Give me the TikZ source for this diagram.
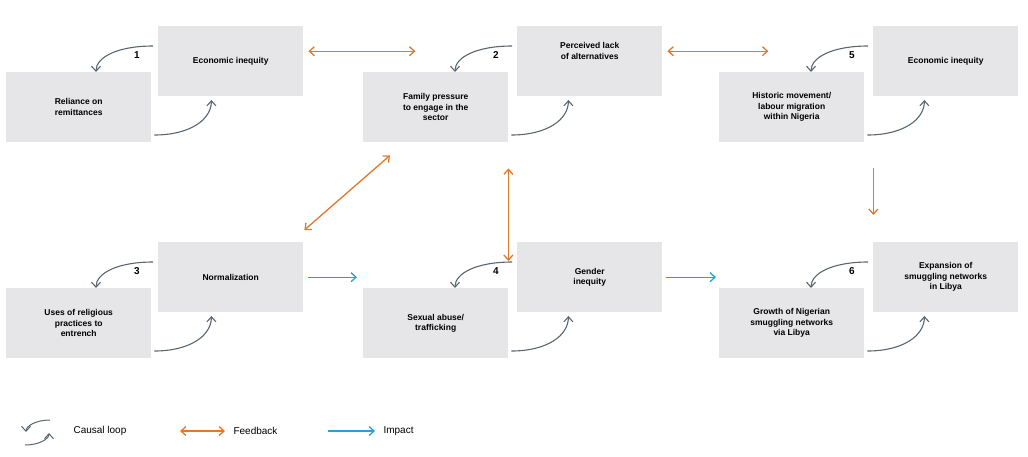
\documentclass[tikz,border=0pt]{standalone}
\usepackage{fontspec}
\setmainfont{Liberation Sans}
\usetikzlibrary{arrows.meta}
\definecolor{boxg}{HTML}{E6E6E8}
\definecolor{loopg}{HTML}{5A6670}
\definecolor{fb}{HTML}{E2782B}
\definecolor{imp}{HTML}{2A9FD8}
\begin{document}
\begin{tikzpicture}[x=1pt,y=-1pt,
 box/.style={fill=boxg,draw=none,minimum width=145pt,minimum height=70pt,align=center,font=\fontsize{8.5}{10.5}\selectfont\bfseries,anchor=north west,inner sep=2pt},
 lp/.style={draw=loopg,line width=1.1pt,-{Straight Barb[length=5pt,width=9pt]}},
 fbk/.style={draw=fb,line width=1.3pt,{Straight Barb[length=5pt,width=9pt]}-{Straight Barb[length=5pt,width=9pt]}},
 fbs/.style={draw=fb,line width=1.3pt,-{Straight Barb[length=5pt,width=9pt]}},
 im/.style={draw=imp,line width=1.3pt,-{Straight Barb[length=5pt,width=9pt]}},
 num/.style={font=\fontsize{10}{12}\selectfont\bfseries},
 lg/.style={font=\fontsize{10}{12}\selectfont,anchor=west}]
\useasboundingbox (0,0) rectangle (1028,456);
\node[box] (a1) at (158,26) {Economic inequity};
\node[box] (b1) at (6,72) {Reliance on\\remittances};
\node[box] (a2) at (517,26) {Perceived lack\\of alternatives\\[10pt]};
\node[box] (b2) at (363,72) {Family pressure\\to engage in the\\sector};
\node[box] (a5) at (873,26) {Economic inequity};
\node[box] (b5) at (719,72) {Historic movement/\\labour migration\\within Nigeria};
\node[box] (a3) at (158,242) {Normalization};
\node[box] (b3) at (6,288) {Uses of religious\\practices to\\entrench};
\node[box] (a4) at (517,242) {Gender\\inequity};
\node[box] (b4) at (363,288) {Sexual abuse/\\trafficking};
\node[box] (a6) at (873,242) {Expansion of\\smuggling networks\\in Libya};
\node[box] (b6) at (719,288) {Growth of Nigerian\\smuggling networks\\via Libya};
\foreach \a/\b/\n in {a1/b1/1,a2/b2/2,a5/b5/5,a3/b3/3,a4/b4/4,a6/b6/6}{
 \draw[lp] ([shift={(-5,20)}]\a.north west) .. controls +(-35,0) and +(0,-15) .. ([shift={(-62,46)}]\a.north west);
 \draw[lp] ([shift={(3,63)}]\b.north east) .. controls +(35,0) and +(0,20) .. ([shift={(60,28)}]\b.north east);
 \node[num] (n\n) at ([shift={(-21,29)}]\a.north west) {\n};
}
\draw[fbk] (a1.east)++(5,-10) coordinate (p1) -- ++(107,0) coordinate (p2);
\draw[fbk] ([shift={(5,-10)}]a2.east) -- ([shift={(106,-10)}]a2.east);
\draw[fbk] ([shift={(1,-12)}]a3.north east) -- ([shift={(27,13)}]b2.south west);
\draw[fbk] ([shift={(0,26)}]b2.south east) -- ([shift={(0,-27)}]b4.north east);
\draw[fbs] ([shift={(9,26)}]b5.south east) -- ([shift={(9,-27)}]b5.south east|-a6.north);
\draw[im] ([shift={(5,0)}]a3.east) -- ([shift={(-6,0)}]b4.west|-a3.east);
\draw[im] ([shift={(4,0)}]a4.east) -- ([shift={(-3,0)}]b6.west|-a4.east);
% legend
\coordinate (l1) at (50,420);
\draw[lp,line width=1pt] (l1) .. controls +(-14,0) and +(0,-6) .. ++(-24,12);
\draw[lp,line width=1pt] (25,445) .. controls +(14,0) and +(0,6) .. ++(24,-12);
\node[lg] (t1) at (70,431) {Causal loop};
\draw[fbk] (180,431) -- (225,431);
\node[lg] (t2) at (230,431) {Feedback};
\draw[im] (328,431) -- (375,431);
\node[lg] (t3) at (380,431) {Impact};
\end{tikzpicture}
\end{document}
